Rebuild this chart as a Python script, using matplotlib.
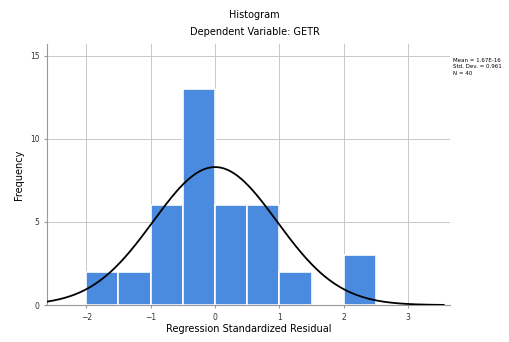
import matplotlib.pyplot as plt
import numpy as np

### Data
bin_left = [-2.0, -1.5, -1.0, -0.5, 0.0, 0.5, 1.0, 1.5, 2.0]
counts = [2, 2, 6, 13, 6, 6, 2, 0, 3]
bin_width = 0.5
x_ticks = [-2, -1, 0, 1, 2, 3]
y_ticks = [0, 5, 10, 15]
mean, sd, n = 0.0, 0.961, 40
legend_lines = ["Mean = 1.67E-16", "Std. Dev. = 0.961", "N = 40"]

### Figure
fig = plt.figure(figsize=(5.09, 3.42), dpi=100)
ax = fig.add_axes([0.0923, 0.108, 0.792, 0.763])

ax.bar(bin_left, counts, width=bin_width, align='edge', color='#4a8be0',
       edgecolor='white', linewidth=1.2, zorder=2)

# normal curve scaled to counts
xs = np.linspace(-2.6, 3.55, 400)
ys = n * bin_width / (sd * np.sqrt(2 * np.pi)) * np.exp(-0.5 * ((xs - mean) / sd) ** 2)
ax.plot(xs, ys, color='black', lw=1.3, zorder=3)

ax.set_xlim(-2.61, 3.65)
ax.set_ylim(0, 15.7)
ax.set_xticks(x_ticks)
ax.set_yticks(y_ticks)
ax.grid(True, color='#c8c8c8', lw=0.7, zorder=0)
ax.set_axisbelow(True)
for s in ['top', 'right']:
    ax.spines[s].set_visible(False)
for s in ['left', 'bottom']:
    ax.spines[s].set_color('#999999')
ax.tick_params(labelsize=5.5, length=2, color='#999999', labelcolor='#333333')

ax.set_ylabel('Frequency', fontsize=7)
ax.set_xlabel('Regression Standardized Residual', fontsize=7, labelpad=2)
fig.text(0.5, 0.955, 'Histogram', ha='center', va='center', fontsize=7)
fig.text(0.5, 0.905, 'Dependent Variable: GETR', ha='center', va='center', fontsize=7)
fig.text(0.889, 0.83, '\n'.join(legend_lines), ha='left', va='top', fontsize=4,
         linespacing=1.3)

fig.savefig('out.png', dpi=100)
